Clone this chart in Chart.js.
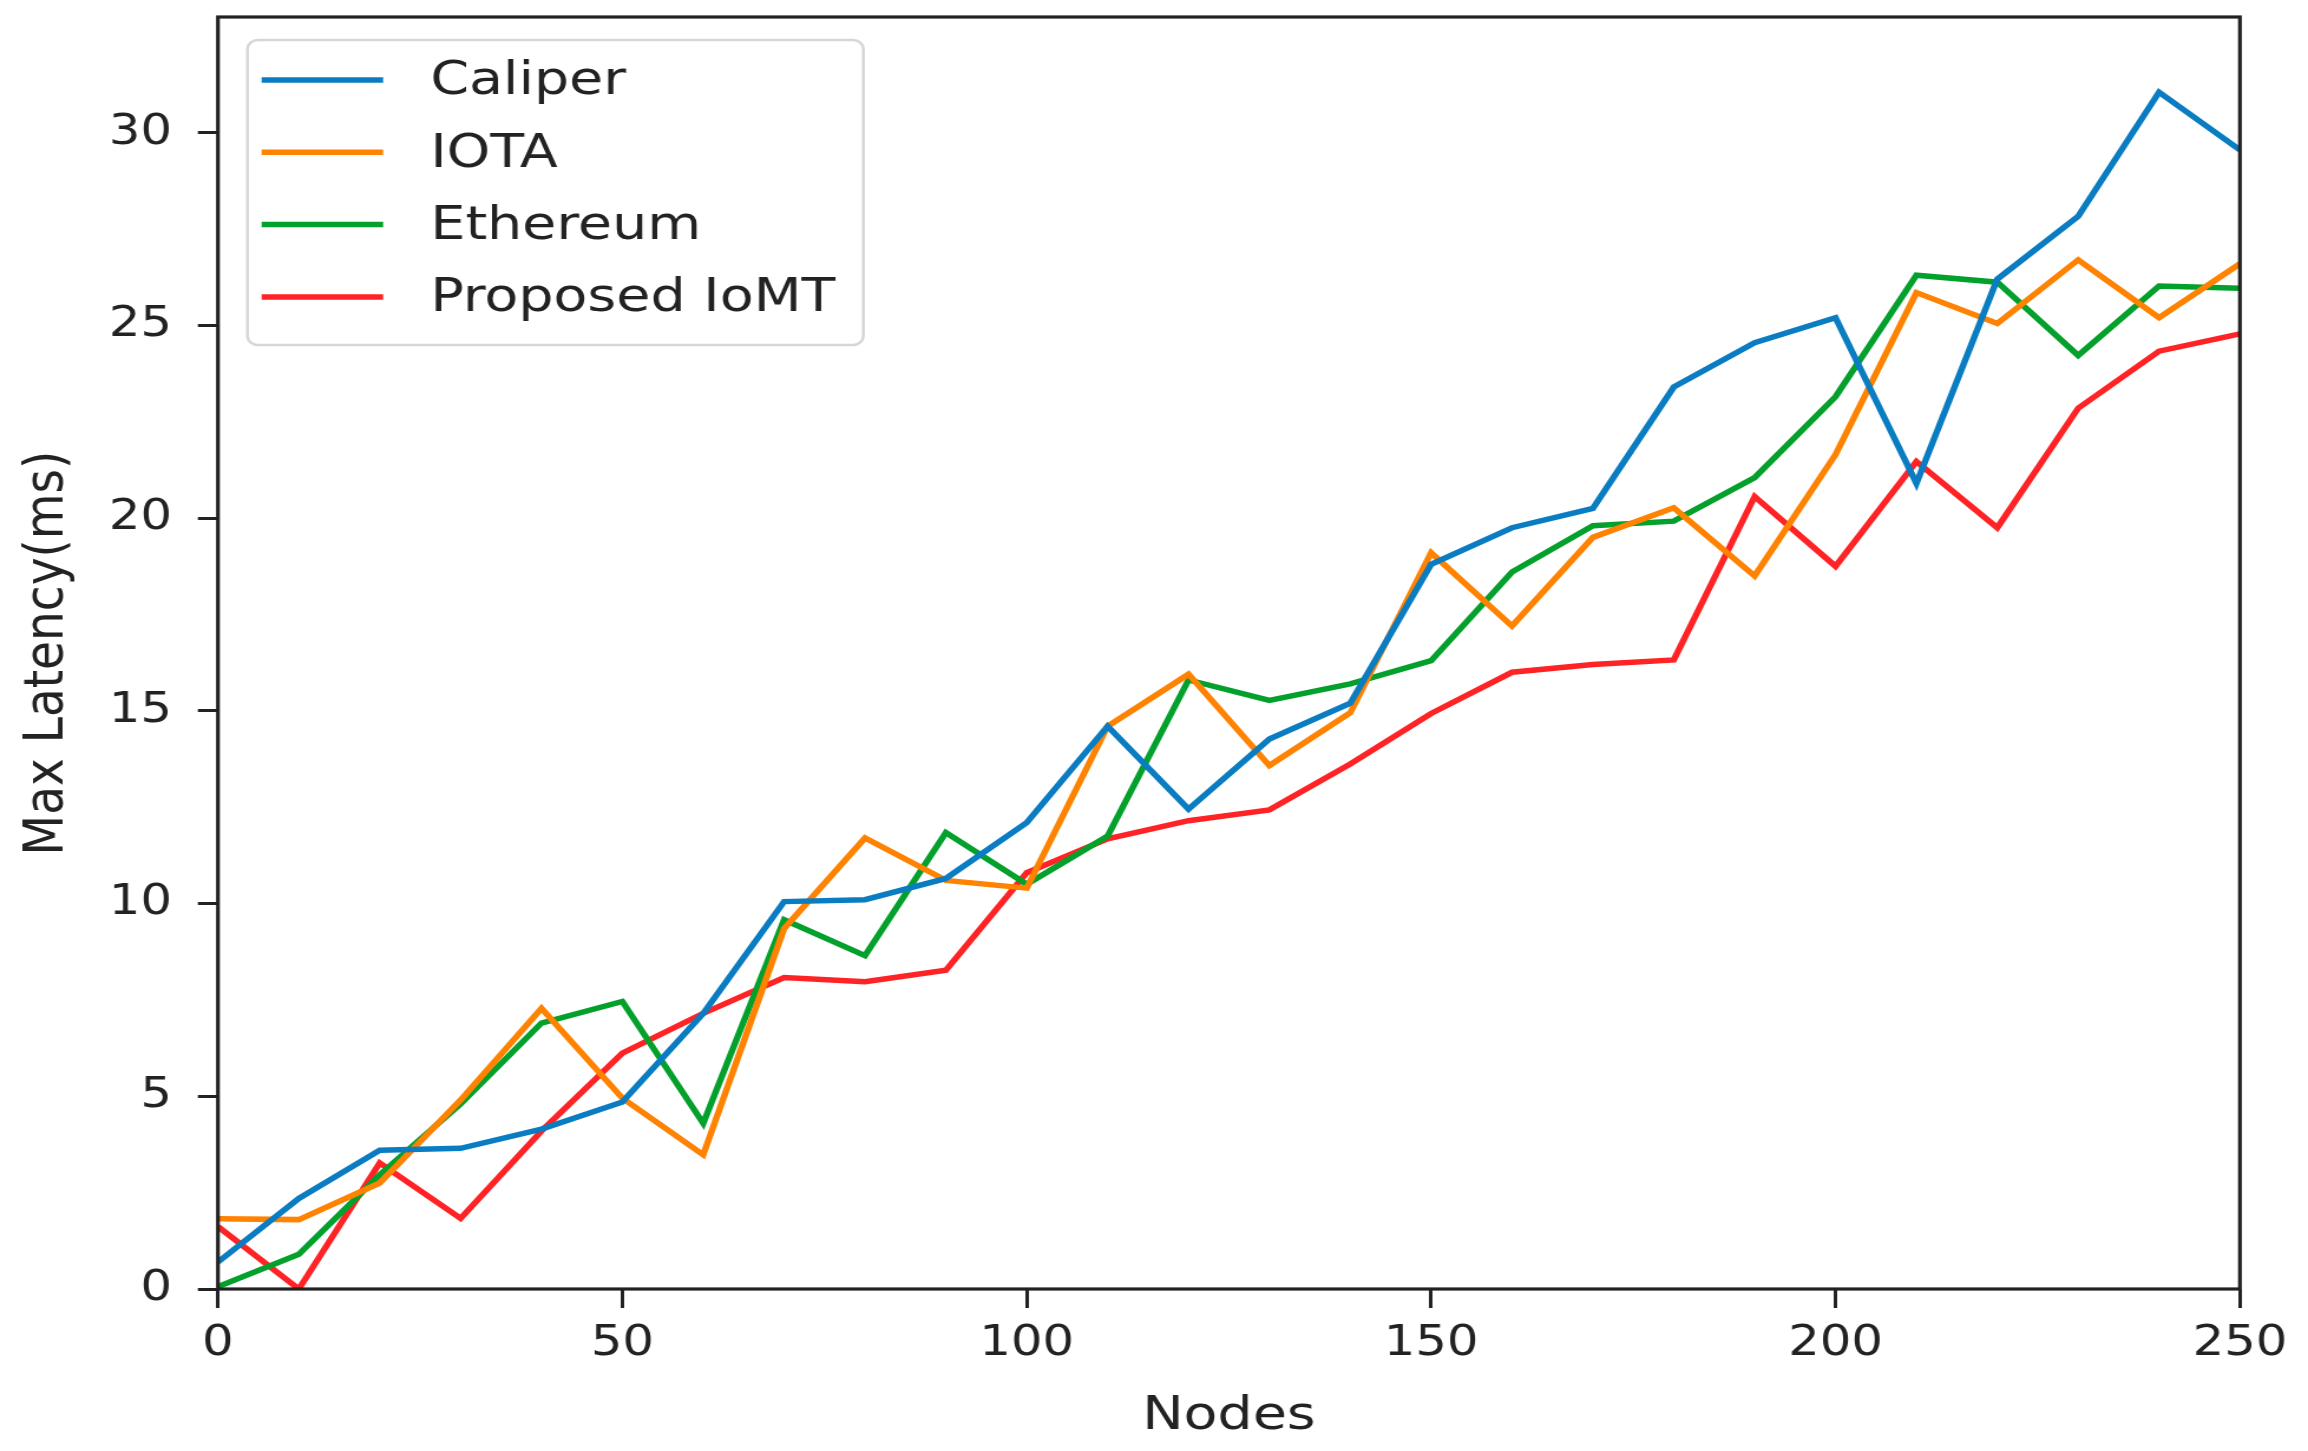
<!DOCTYPE html>
<html>
<head>
<meta charset="utf-8">
<script src="https://cdn.jsdelivr.net/npm/chart.js@4.4.1/dist/chart.umd.min.js"></script>
<style>
  html, body { margin: 0; padding: 0; background: #ffffff; }
  #wrap { width: 2308px; height: 1451px; overflow: hidden; }
  #c { display: block; width: 2308px; height: 1451px; }
</style>
</head>
<body>
<div id="wrap"><canvas id="c" width="1956" height="1451" style="width:2308px;height:1451px"></canvas></div>
<script>
// ---- data ----
const nodes = [0, 10, 20, 30, 40, 50, 60, 70, 80, 90, 100, 110, 120, 130, 140, 150, 160, 170, 180, 190, 200, 210, 220, 230, 240, 250];
const seriesNames = ["Caliper", "IOTA", "Ethereum", "Proposed IoMT"];
const caliper  = [0.7, 2.35, 3.6, 3.65, 4.15, 4.85, 7.15, 10.05, 10.1, 10.65, 12.1, 14.6, 12.45, 14.27, 15.2, 18.8, 19.75, 20.25, 23.4, 24.55, 25.2, 20.9, 26.2, 27.83, 31.05, 29.55];
const iota     = [1.82, 1.8, 2.75, 4.9, 7.28, 4.95, 3.48, 9.35, 11.7, 10.6, 10.4, 14.6, 15.95, 13.58, 14.95, 19.1, 17.2, 19.5, 20.27, 18.5, 21.65, 25.85, 25.05, 26.7, 25.2, 26.6];
const ethereum = [0.06, 0.9, 2.96, 4.8, 6.9, 7.46, 4.3, 9.58, 8.65, 11.84, 10.5, 11.75, 15.8, 15.27, 15.7, 16.3, 18.6, 19.8, 19.92, 21.05, 23.15, 26.3, 26.12, 24.22, 26.02, 25.96];
const proposed = [1.62, 0.0, 3.27, 1.83, 4.1, 6.12, 7.15, 8.08, 7.97, 8.27, 10.8, 11.68, 12.15, 12.43, 13.62, 14.93, 16.0, 16.2, 16.32, 20.56, 18.75, 21.47, 19.75, 22.85, 24.33, 24.78];
const xTickValues = [0, 50, 100, 150, 200, 250];
const yTickValues = [0, 5, 10, 15, 20, 25, 30];
const xTitle = "Nodes";
const yTitle = "Max Latency(ms)";

const colors = ["#0a7cc1", "#ff8200", "#04a02c", "#ff2326"];
const allSeries = [caliper, iota, ethereum, proposed];

const FONT = "'DejaVu Sans', 'Liberation Sans', sans-serif";
const INK = "#222222";

// frame around the plot area (matplotlib style spines)
const framePlugin = {
  id: 'frame',
  afterDatasetsDraw(chart) {
    const {ctx, chartArea: a} = chart;
    ctx.save();
    ctx.strokeStyle = INK;
    ctx.lineWidth = 3.2;
    ctx.strokeRect(a.left, a.top, a.right - a.left, a.bottom - a.top);
    ctx.restore();
  }
};

// legend box drawn inside the plot area, upper left
const insideLegend = {
  id: 'insideLegend',
  afterDraw(chart) {
    const {ctx, chartArea: a} = chart;
    const bx = a.left + 25, by = a.top + 23, bw = 522, bh = 305, r = 9;
    ctx.save();
    ctx.beginPath();
    ctx.moveTo(bx + r, by);
    ctx.lineTo(bx + bw - r, by);
    ctx.arcTo(bx + bw, by, bx + bw, by + r, r);
    ctx.lineTo(bx + bw, by + bh - r);
    ctx.arcTo(bx + bw, by + bh, bx + bw - r, by + bh, r);
    ctx.lineTo(bx + r, by + bh);
    ctx.arcTo(bx, by + bh, bx, by + bh - r, r);
    ctx.lineTo(bx, by + r);
    ctx.arcTo(bx, by, bx + r, by, r);
    ctx.closePath();
    ctx.fillStyle = "rgba(255,255,255,0.85)";
    ctx.fill();
    ctx.strokeStyle = "#d6d6d6";
    ctx.lineWidth = 2.5;
    ctx.stroke();
    ctx.font = "47px " + FONT;
    ctx.textBaseline = "middle";
    ctx.textAlign = "left";
    chart.data.datasets.forEach((ds, i) => {
      const yy = by + 40 + i * 72.3;
      ctx.strokeStyle = ds.borderColor;
      ctx.lineWidth = ds.borderWidth;
      ctx.lineCap = "butt";
      ctx.beginPath();
      ctx.moveTo(bx + 12, yy);
      ctx.lineTo(bx + 115, yy);
      ctx.stroke();
      ctx.fillStyle = INK;
      ctx.fillText(ds.label, bx + 155, yy + 2);
    });
    ctx.restore();
  }
};

const datasets = seriesNames.map((name, i) => ({
  label: name,
  data: nodes.map((n, j) => ({x: n, y: allSeries[i][j]})),
  borderColor: colors[i],
  backgroundColor: colors[i],
  borderWidth: 5.5,
  pointRadius: 0,
  tension: 0,
  fill: false
}));

new Chart(document.getElementById('c'), {
  type: 'line',
  data: { datasets },
  plugins: [framePlugin, insideLegend],
  options: {
    responsive: false,
    devicePixelRatio: 1,
    animation: false,
    layout: { padding: { top: 17, right: 57.7, left: 0, bottom: 0 } },
    plugins: { legend: { display: false }, tooltip: { enabled: false }, title: { display: false } },
    scales: {
      x: {
        type: 'linear',
        min: 0, max: 250,
        afterBuildTicks(scale) { scale.ticks = xTickValues.map(v => ({value: v})); },
        afterFit(scale) { scale.height = 162; scale.paddingLeft = 0; scale.paddingRight = 0; },
        ticks: { color: INK, font: { family: FONT, size: 42 }, padding: 11, maxRotation: 0 },
        grid: { drawOnChartArea: false, drawTicks: true, tickLength: 19, color: INK, lineWidth: 3 },
        border: { display: false },
        title: { display: true, text: xTitle, color: INK, font: { family: FONT, size: 47 }, padding: { top: 0, bottom: 6 } }
      },
      y: {
        type: 'linear',
        min: 0, max: 33,
        afterBuildTicks(scale) { scale.ticks = yTickValues.map(v => ({value: v})); },
        afterFit(scale) { scale.width = 184.7; scale.paddingTop = 0; scale.paddingBottom = 0; },
        ticks: { color: INK, font: { family: FONT, size: 42 }, padding: 22 },
        grid: { drawOnChartArea: false, drawTicks: true, tickLength: 17, color: INK, lineWidth: 3 },
        border: { display: false },
        title: { display: true, text: yTitle, color: INK, font: { family: FONT, size: 47 }, padding: { top: 13, bottom: 0 } }
      }
    }
  }
});
</script>
</body>
</html>
